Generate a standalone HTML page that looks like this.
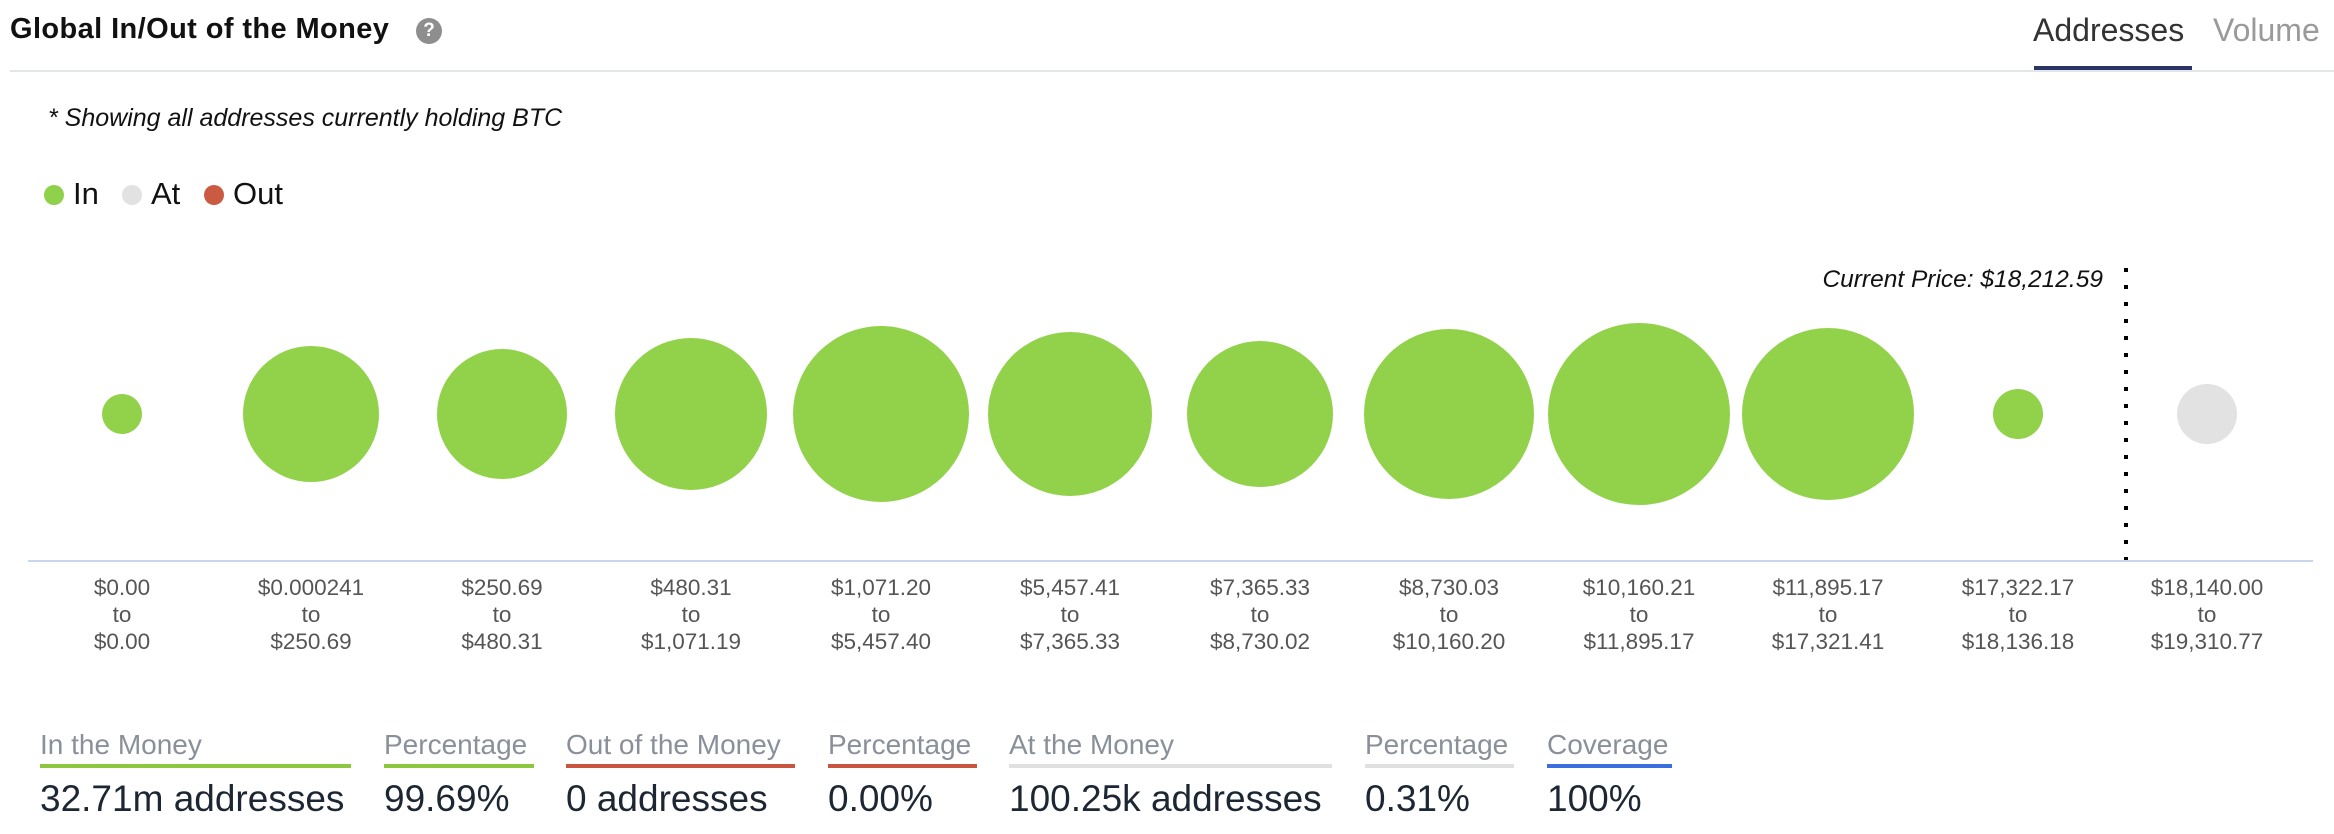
<!DOCTYPE html>
<html><head><meta charset="utf-8"><style>
body{margin:0;width:2334px;height:834px;background:#fff;position:relative;overflow:hidden;font-family:"Liberation Sans",sans-serif}
.a{position:absolute;white-space:nowrap}
.lab{position:absolute;width:200px;text-align:center;font-size:22.5px;color:#555;line-height:27px}
.sl{position:absolute;top:729px;font-size:28px;color:#8a9099}
.sb{position:absolute;top:764px;height:4px}
.sv{position:absolute;top:778px;font-size:37px;color:#1d2633}
</style></head><body>
<div class="a" style="left:10px;top:13px;font-size:29px;font-weight:bold;color:#111;letter-spacing:0.4px">Global In/Out of the Money</div>
<div class="a" style="left:416px;top:18px;width:26px;height:26px;border-radius:50%;background:#8e8e8e;color:#fff;font-size:19px;font-weight:bold;text-align:center;line-height:26px">?</div>
<div class="a" style="left:2033px;top:12px;font-size:32px;color:#333">Addresses</div>
<div class="a" style="left:2213px;top:12px;font-size:32px;color:#9a9a9a">Volume</div>
<div class="a" style="left:10px;top:70px;width:2324px;height:2px;background:#e2e6ec"></div>
<div class="a" style="left:2034px;top:66px;width:158px;height:4px;background:#2a3466"></div>
<div class="a" style="left:48px;top:104px;font-size:25px;font-style:italic;color:#111">* Showing all addresses currently holding BTC</div>
<div class="a" style="left:44px;top:185px;width:20px;height:20px;border-radius:50%;background:#8fd14a"></div>
<div class="a" style="left:73px;top:176px;font-size:31px;color:#111">In</div>
<div class="a" style="left:122px;top:185px;width:20px;height:20px;border-radius:50%;background:#e2e2e2"></div>
<div class="a" style="left:151px;top:176px;font-size:31px;color:#111">At</div>
<div class="a" style="left:204px;top:185px;width:20px;height:20px;border-radius:50%;background:#cb5a42"></div>
<div class="a" style="left:233px;top:176px;font-size:31px;color:#111">Out</div>
<svg class="a" style="left:0;top:0" width="2334" height="834">
<g fill="#92d14a">
<circle cx="122" cy="414" r="20"/><circle cx="311" cy="414" r="68"/><circle cx="502" cy="414" r="65"/>
<circle cx="691" cy="414" r="76"/><circle cx="881" cy="414" r="88"/><circle cx="1070" cy="414" r="82"/>
<circle cx="1260" cy="414" r="73"/><circle cx="1449" cy="414" r="85"/><circle cx="1639" cy="414" r="91"/>
<circle cx="1828" cy="414" r="86"/><circle cx="2018" cy="414" r="25"/></g>
<circle cx="2207" cy="414" r="30" fill="#e2e2e2"/>
<line x1="28" y1="561" x2="2313" y2="561" stroke="#ccd6eb" stroke-width="2"/>
<line x1="2126" y1="268" x2="2126" y2="560" stroke="#000" stroke-width="4" stroke-dasharray="4,13"/>
<text x="2103" y="287" font-size="24.5" font-style="italic" text-anchor="end" fill="#111" font-family="Liberation Sans">Current Price: $18,212.59</text>
</svg>
<div class="lab" style="left:22px;top:574px">$0.00<br>to<br>$0.00</div>
<div class="lab" style="left:211px;top:574px">$0.000241<br>to<br>$250.69</div>
<div class="lab" style="left:402px;top:574px">$250.69<br>to<br>$480.31</div>
<div class="lab" style="left:591px;top:574px">$480.31<br>to<br>$1,071.19</div>
<div class="lab" style="left:781px;top:574px">$1,071.20<br>to<br>$5,457.40</div>
<div class="lab" style="left:970px;top:574px">$5,457.41<br>to<br>$7,365.33</div>
<div class="lab" style="left:1160px;top:574px">$7,365.33<br>to<br>$8,730.02</div>
<div class="lab" style="left:1349px;top:574px">$8,730.03<br>to<br>$10,160.20</div>
<div class="lab" style="left:1539px;top:574px">$10,160.21<br>to<br>$11,895.17</div>
<div class="lab" style="left:1728px;top:574px">$11,895.17<br>to<br>$17,321.41</div>
<div class="lab" style="left:1918px;top:574px">$17,322.17<br>to<br>$18,136.18</div>
<div class="lab" style="left:2107px;top:574px">$18,140.00<br>to<br>$19,310.77</div>
<div class="sl" style="left:40px">In the Money</div><div class="sb" style="left:40px;width:311px;background:#8dc63f"></div><div class="sv" style="left:40px">32.71m addresses</div>
<div class="sl" style="left:384px">Percentage</div><div class="sb" style="left:384px;width:150px;background:#8dc63f"></div><div class="sv" style="left:384px">99.69%</div>
<div class="sl" style="left:566px">Out of the Money</div><div class="sb" style="left:566px;width:229px;background:#c8553d"></div><div class="sv" style="left:566px">0 addresses</div>
<div class="sl" style="left:828px">Percentage</div><div class="sb" style="left:828px;width:149px;background:#c8553d"></div><div class="sv" style="left:828px">0.00%</div>
<div class="sl" style="left:1009px">At the Money</div><div class="sb" style="left:1009px;width:323px;background:#e0e0e0"></div><div class="sv" style="left:1009px">100.25k addresses</div>
<div class="sl" style="left:1365px">Percentage</div><div class="sb" style="left:1365px;width:149px;background:#e0e0e0"></div><div class="sv" style="left:1365px">0.31%</div>
<div class="sl" style="left:1547px">Coverage</div><div class="sb" style="left:1547px;width:125px;background:#3b6fe0"></div><div class="sv" style="left:1547px">100%</div>
</body></html>
